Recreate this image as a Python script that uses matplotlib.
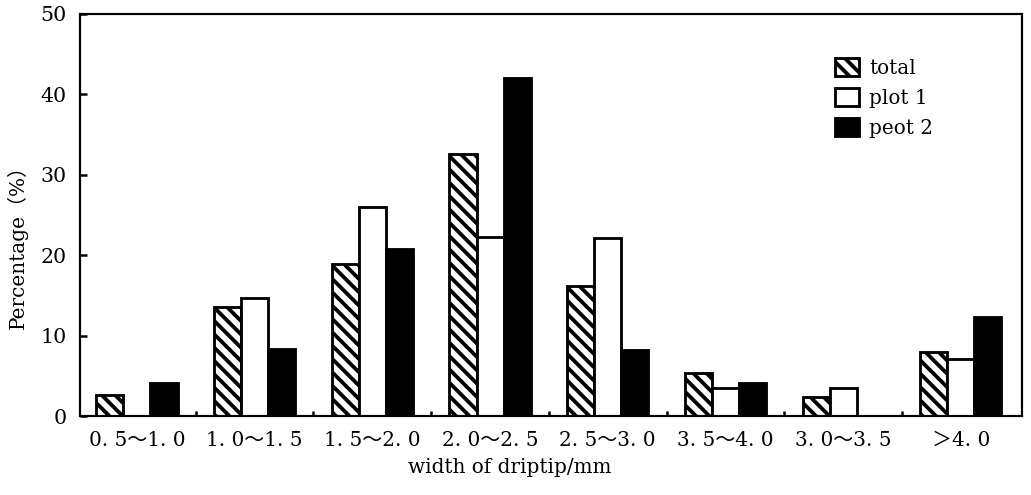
import matplotlib
matplotlib.use("Agg")
import matplotlib.pyplot as plt
import numpy as np
from matplotlib.patches import Patch

categories = ["0. 5～1. 0", "1. 0～1. 5", "1. 5～2. 0", "2. 0～2. 5",
              "2. 5～3. 0", "3. 5～4. 0", "3. 0～3. 5", "＞4. 0"]
total = [2.6, 13.6, 18.9, 32.6, 16.2, 5.3, 2.4, 7.9]
plot1 = [0.0, 14.7, 26.0, 22.3, 22.1, 3.5, 3.5, 7.1]
peot2 = [4.1, 8.3, 20.8, 42.0, 8.2, 4.1, 0.0, 12.3]
legend_labels = ["total", "plot 1", "peot 2"]
y_ticks = [0, 10, 20, 30, 40, 50]

plt.rcParams['font.family'] = ['DejaVu Serif', 'Noto Sans CJK SC']
plt.rcParams['hatch.linewidth'] = 2.3
plt.rcParams['hatch.color'] = 'black'

HATCH = '\\' * 3

fig = plt.figure(figsize=(1031/120, 495/120), dpi=120)
ax = fig.add_axes([80/1031, 1 - 416/495, (1022-80)/1031, (416-14)/495])

x = np.arange(len(categories))
w = 0.23
lw = 1.7
ax.bar(x - w, total, w, facecolor='white', edgecolor='black', hatch=HATCH, linewidth=lw)
ax.bar(x, plot1, w, facecolor='white', edgecolor='black', linewidth=lw)
ax.bar(x + w, peot2, w, facecolor='black', edgecolor='black', linewidth=lw)

ax.set_xlim(-0.484, 7.52)
ax.set_ylim(0, 50)
ax.set_yticks(y_ticks)
ax.set_yticklabels([str(v) for v in y_ticks], fontsize=12.3)
ax.set_xticks(x)
ax.set_xticklabels(categories, fontsize=12)
ax.set_xticks(x[:-1] + 0.5, minor=True)
ax.tick_params(axis='x', which='major', length=0, pad=9)
ax.tick_params(axis='x', which='minor', direction='in', length=3, width=1.5)
ax.tick_params(axis='y', which='major', direction='in', length=4, width=1.5, pad=8)
for s in ax.spines.values():
    s.set_linewidth(1.3)

ax.set_ylabel("Percentage（%）", fontsize=12)
ax.yaxis.set_label_coords(-0.055, 0.433)
ax.set_xlabel("width of driptip/mm", fontsize=12)
ax.xaxis.set_label_coords(0.456, -0.105)

handles = [Patch(facecolor='white', edgecolor='black', hatch=HATCH, linewidth=lw),
           Patch(facecolor='white', edgecolor='black', linewidth=lw),
           Patch(facecolor='black', edgecolor='black', linewidth=lw)]
ax.legend(handles, legend_labels, loc='upper left', bbox_to_anchor=(0.787, 0.925),
          frameon=False, fontsize=12, handlelength=1.2, handleheight=1.0,
          handletextpad=0.5, labelspacing=0.5, borderpad=0.2)

fig.savefig("out.png", dpi=120)
